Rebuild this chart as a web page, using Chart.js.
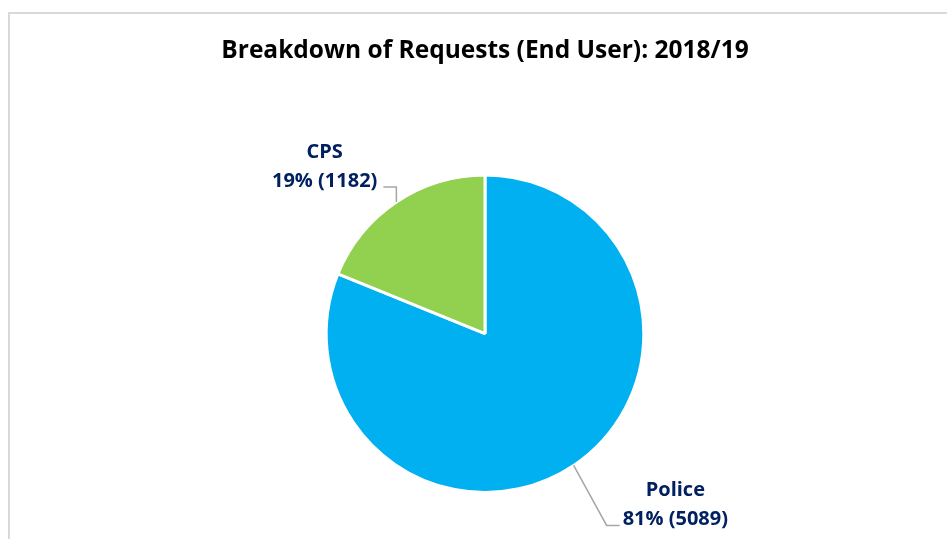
<!DOCTYPE html>
<html>
<head>
<meta charset="utf-8">
<script src="https://cdn.jsdelivr.net/npm/chart.js@4/dist/chart.umd.min.js"></script>
<style>
  html, body { margin: 0; padding: 0; background: #fff; }
  #wrap { width: 947px; height: 539px; }
</style>
</head>
<body>
<div id="wrap"><canvas id="pie"></canvas></div>
<script>
// chart data
const categories = ['Police', 'CPS'];
const requestCounts = [5089, 1182];
const sliceColors = ['#00B0F0', '#92D050'];

const chartTitle = 'Breakdown of Requests (End User): 2018/19';
const labelColor = '#002060';
const fontFamily = '"Open Sans", "Liberation Sans", sans-serif';

// light grey frame around the chart
const framePlugin = {
    id: 'frame',
    beforeDraw(chart) {
        const ctx = chart.ctx;
        ctx.save();
        ctx.strokeStyle = '#d9d9d9';
        ctx.lineWidth = 2;
        ctx.strokeRect(9, 13, chart.width + 10, chart.height + 10);
        ctx.restore();
    }
};

// data labels with leader lines, placed off the middle of each slice
const leaderLabels = {
    id: 'leaderLabels',
    afterDatasetsDraw(chart) {
        const ctx = chart.ctx;
        const meta = chart.getDatasetMeta(0);
        const values = chart.data.datasets[0].data;
        const total = values.reduce((a, b) => a + b, 0);

        meta.data.forEach((arc, i) => {
            const p = arc.getProps(['x', 'y', 'startAngle', 'endAngle', 'outerRadius']);
            const mid = (p.startAngle + p.endAngle) / 2;
            const ex = p.x + Math.cos(mid) * p.outerRadius;
            const ey = p.y + Math.sin(mid) * p.outerRadius;
            const pct = Math.round(values[i] / total * 100);
            const lines = [chart.data.labels[i], pct + '% (' + values[i] + ')'];

            ctx.save();
            ctx.strokeStyle = '#a6a6a6';
            ctx.lineWidth = 1.5;
            ctx.beginPath();
            let tx, ty, align;
            if (Math.cos(mid) < 0) {
                // left side: short riser then a stub to the left
                const ky = ey - 15;
                ctx.moveTo(ex, ey);
                ctx.lineTo(ex, ky);
                ctx.lineTo(ex - 13, ky);
                tx = ex - 19; ty = ky; align = 'right';
            } else {
                // right side: diagonal down then a stub to the right
                const kx = ex + 33, ky = ey + 60;
                ctx.moveTo(ex, ey);
                ctx.lineTo(kx, ky);
                ctx.lineTo(kx + 13, ky);
                tx = kx + 16; ty = ky; align = 'left';
            }
            ctx.stroke();

            ctx.fillStyle = labelColor;
            ctx.font = 'bold 20px ' + fontFamily;
            ctx.textBaseline = 'middle';
            // centre both lines on the wider one
            const w = Math.max(...lines.map(t => ctx.measureText(t).width));
            const cx = align === 'right' ? tx - w / 2 : tx + w / 2;
            ctx.textAlign = 'center';
            ctx.fillText(lines[0], cx, ty - 35);
            ctx.fillText(lines[1], cx, ty - 6);
            ctx.restore();
        });
    }
};

new Chart(document.getElementById('pie'), {
    type: 'pie',
    data: {
        labels: categories,
        datasets: [{
            data: requestCounts,
            backgroundColor: sliceColors,
            borderColor: '#ffffff',
            borderWidth: 3
        }]
    },
    options: {
        responsive: true,
        maintainAspectRatio: false,
        animation: false,
        layout: {
            padding: { left: 180, right: 157, top: 0, bottom: 45 }
        },
        plugins: {
            legend: { display: false },
            tooltip: { enabled: false },
            title: {
                display: true,
                text: chartTitle,
                color: '#000000',
                font: { family: fontFamily, size: 24.5, weight: 'bold', lineHeight: 1.2 },
                padding: { top: 36, bottom: 108 }
            }
        }
    },
    plugins: [framePlugin, leaderLabels]
});
</script>
</body>
</html>
